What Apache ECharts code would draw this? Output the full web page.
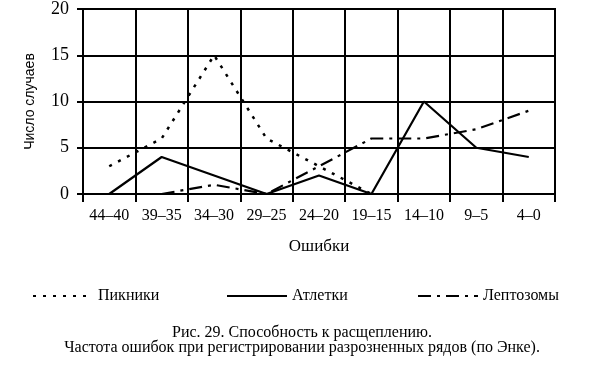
<!DOCTYPE html>
<html>
<head>
<meta charset="utf-8">
<script src="https://cdn.jsdelivr.net/npm/echarts@6/dist/echarts.min.js"></script>
<style>
  html, body { margin: 0; padding: 0; background: #fff; }
  #chart { width: 600px; height: 370px; }
</style>
</head>
<body>
<div id="chart"></div>
<script>
var categories = ['44–40', '39–35', '34–30', '29–25', '24–20', '19–15', '14–10', '9–5', '4–0'];
var pikniki = [3, 6, 15, 6, 3, 0, null, null, null];
var atletki = [0, 4, 2, 0, 2, 0, 10, 5, 4];
var leptozomy = [null, 0, 1, 0, 3, 6, 6, 7, 9];
var yTicks = [0, 5, 10, 15, 20];
var seriesNames = ['Пикники', 'Атлетки', 'Лептозомы'];

var serif = '"Liberation Serif", "Times New Roman", serif';
var chart = echarts.init(document.getElementById('chart'), null, { renderer: 'canvas' });

function legendFor(name, left) {
  return {
    data: [name],
    left: left,
    top: 283,
    itemWidth: 60,
    itemHeight: 14,
    itemGap: 0,
    itemStyle: { opacity: 0 },
    textStyle: { fontFamily: serif, fontSize: 16, color: '#000', padding: [0, 0, 0, 0] }
  };
}

var option = {
  backgroundColor: '#fff',
  animation: false,
  title: {
    text: 'Рис. 29. Способность к расщеплению.\nЧастота ошибок при регистрировании разрозненных рядов (по Энке).',
    left: 297,
    top: 320,
    textAlign: 'center',
    textStyle: { fontFamily: serif, fontSize: 16, fontWeight: 'normal', color: '#000', lineHeight: 15, align: 'center' }
  },
  legend: [
    legendFor(seriesNames[0], 27),
    legendFor(seriesNames[1], 221),
    legendFor(seriesNames[2], 412)
  ],
  grid: {
    left: 83, right: 45, top: 9, bottom: 176,
    show: true, borderColor: '#000', borderWidth: 2
  },
  xAxis: {
    type: 'category',
    data: categories,
    boundaryGap: true,
    name: 'Ошибки',
    nameLocation: 'middle',
    nameGap: 44,
    nameTextStyle: { fontFamily: serif, fontSize: 17, color: '#000' },
    axisLine: { lineStyle: { color: '#000', width: 2 } },
    axisTick: { show: true, length: 8, interval: 0, lineStyle: { color: '#000', width: 2 } },
    axisLabel: { fontFamily: serif, fontSize: 16, color: '#000', margin: 14, interval: 0 },
    splitLine: { show: true, interval: 0, lineStyle: { color: '#000', width: 2 } }
  },
  yAxis: {
    type: 'value',
    min: yTicks[0],
    max: yTicks[yTicks.length - 1],
    interval: 5,
    name: 'Число случаев',
    nameLocation: 'middle',
    nameRotate: 90,
    nameGap: 46,
    nameTextStyle: { fontFamily: '"Liberation Sans", Arial, sans-serif', fontSize: 14, color: '#000' },
    axisLine: { show: true, lineStyle: { color: '#000', width: 2 } },
    axisTick: { show: true, length: 6, lineStyle: { color: '#000', width: 2 } },
    axisLabel: { fontFamily: serif, fontSize: 18, color: '#000', margin: 14 },
    splitLine: { show: true, lineStyle: { color: '#000', width: 2 } }
  },
  series: [
    {
      name: seriesNames[0], type: 'line', data: pikniki, symbol: 'none',
      lineStyle: { color: '#000', width: 2.5, type: [3, 7] },
      itemStyle: { color: '#000' }
    },
    {
      name: seriesNames[1], type: 'line', data: atletki, symbol: 'none',
      lineStyle: { color: '#000', width: 2.2, type: 'solid' },
      itemStyle: { color: '#000' }
    },
    {
      name: seriesNames[2], type: 'line', data: leptozomy, symbol: 'none',
      lineStyle: { color: '#000', width: 2.2, type: [13, 6, 3, 6] },
      itemStyle: { color: '#000' }
    }
  ]
};
chart.setOption(option);
</script>
</body>
</html>
